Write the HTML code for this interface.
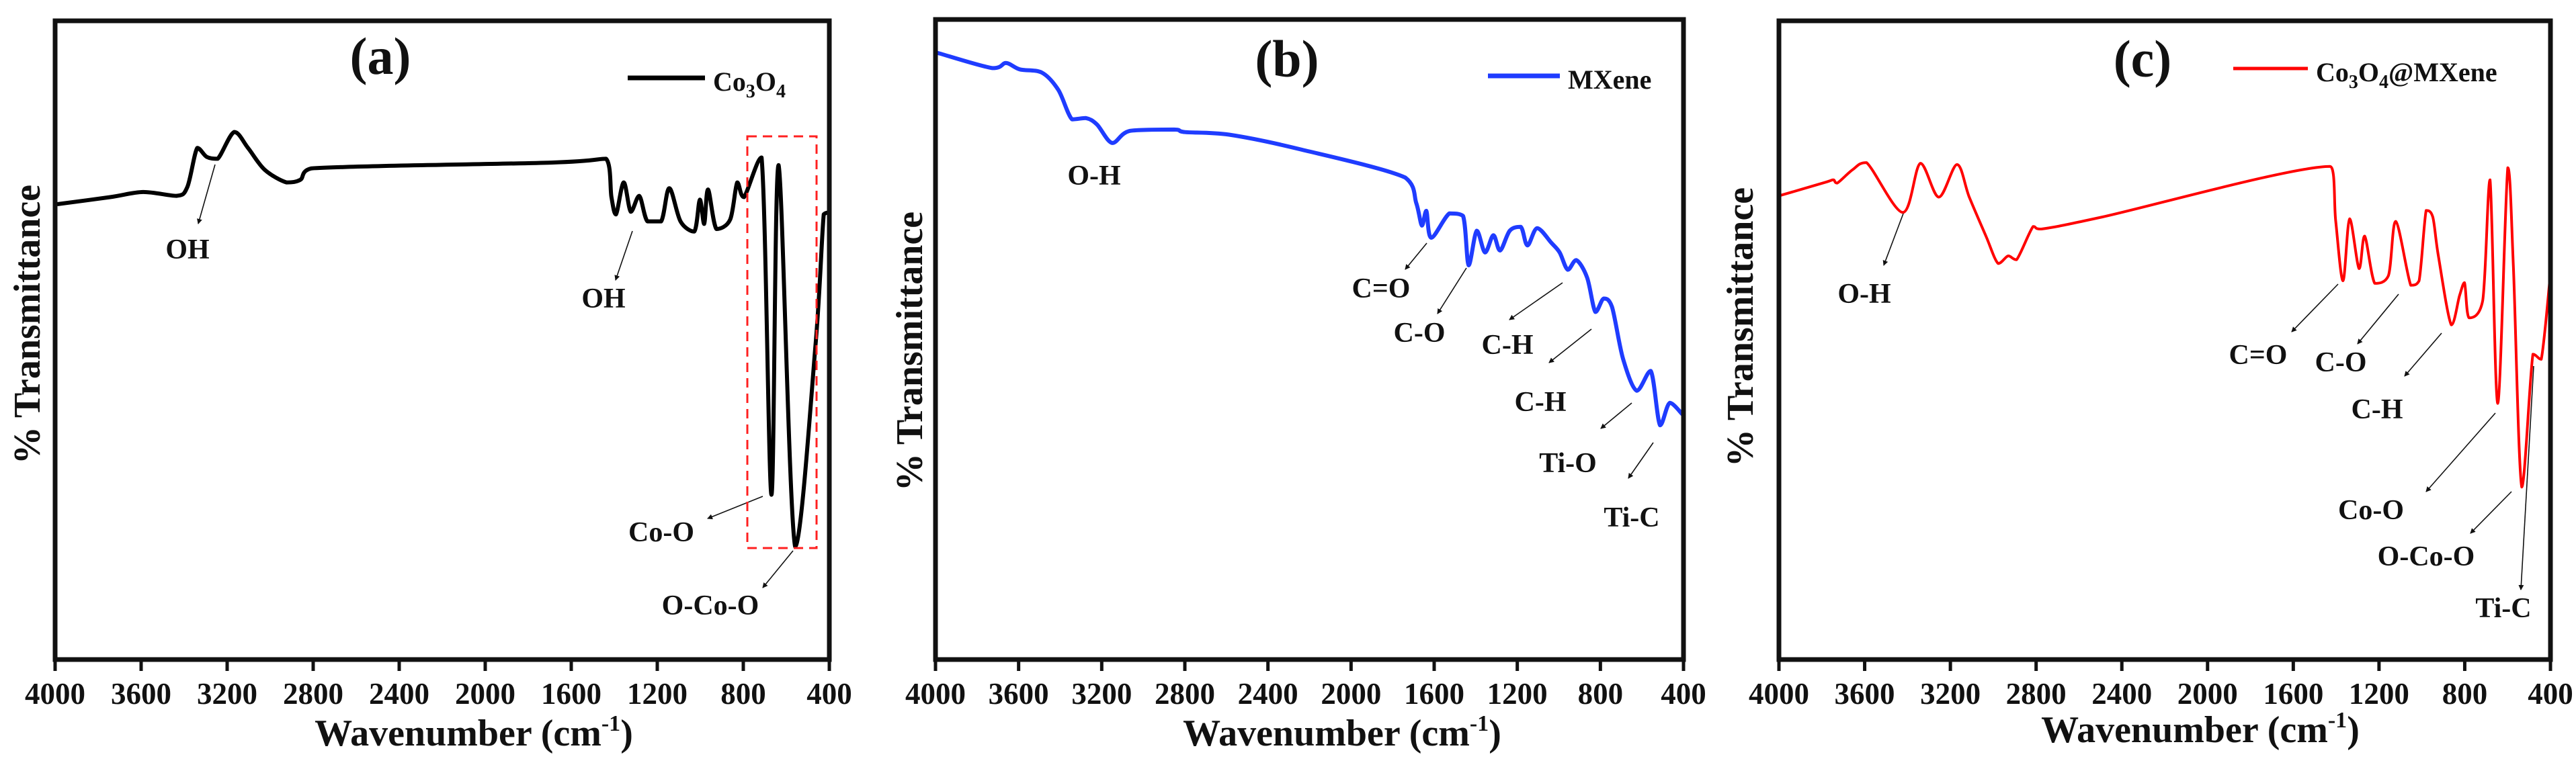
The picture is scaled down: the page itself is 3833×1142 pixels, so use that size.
<!DOCTYPE html>
<html><head><meta charset="utf-8">
<style>
html,body{margin:0;padding:0;background:#fff;}
svg{display:block;}
text{font-family:"Liberation Serif",serif;font-weight:bold;fill:#111;}
</style></head>
<body>
<svg id="chart" width="3833" height="1142" viewBox="0 0 3833 1142" xmlns="http://www.w3.org/2000/svg">
<defs>
<marker id="ah" markerWidth="8" markerHeight="8" refX="7" refY="4" orient="auto" markerUnits="userSpaceOnUse" viewBox="0 0 8 8">
<path d="M0,0 L8,4 L0,8 z" fill="#111"/></marker>
</defs>
</svg>
<script>
// ---- data ----
const xTicks = [4000,3600,3200,2800,2400,2000,1600,1200,800,400];
const wnA = [3987,3744,3590,3436,3385,3339,3295,3244,3167,3103,3026,2924,2860,2808,1694,1438,1413,1392,1356,1323,1284,1246,1182,1144,1092,1028,1002,982,964,925,861,828,797,715,669,636,559,464,426,405];
const tA  = [71.3,72.4,73.2,72.6,74,80.1,78.7,78.4,82.6,80.1,76.7,74.7,75.1,76.9,77.8,78.4,72.4,69.7,74.7,70.1,72.6,68.6,68.6,73.8,68.6,67,72,68.2,73.6,67.4,68.9,74.7,72.4,78.6,25.8,77.4,17.7,49.3,69.7,70];
const wnB = [3992,3727,3661,3594,3488,3409,3343,3276,3223,3149,3064,2852,2799,2587,2242,1739,1686,1659,1638,1614,1527,1461,1434,1395,1355,1315,1283,1236,1183,1151,1104,1036,996,957,916,864,824,784,744,691,625,558,513,466,405];
const tB  = [94.8,92.4,93.2,92.2,91.7,89,84.4,84.6,83.6,80.7,82.6,82.8,82.4,82,79.7,75.3,71.3,67.8,70.1,65.9,69.7,69.3,61.6,67,63.6,66.3,63.9,67,67.6,64.7,67.4,65.1,63.6,60.9,62.4,59.7,54.3,56.4,55.1,47,42,45.1,36.6,40.1,38.3];
const wnC = [4000,3785,3746,3728,3656,3591,3422,3340,3254,3169,3112,3034,2977,2930,2891,2814,2775,2490,1428,1402,1368,1337,1293,1267,1220,1156,1122,1052,1013,980,949,923,863,824,801,780,716,682,646,599,573,534,482,443,400];
const tC  = [72.6,74.7,75.1,74.6,76.7,77.8,70,77.7,72.4,77.5,72.4,66.3,62,63.2,62.6,67.8,67.4,69.3,77.2,68.6,59.3,69,61.2,66.3,58.9,60.1,68.6,58.6,59.3,70.3,69.3,63.2,52.4,57,59,53.5,56.2,75.1,40.1,77,61.6,27,47.8,47,60.5];

const NS="http://www.w3.org/2000/svg";
const svg=document.getElementById('chart');
function mk(tag,attrs,parent,txt){const e=document.createElementNS(NS,tag);for(const k in attrs)e.setAttribute(k,attrs[k]);if(txt!==undefined)e.textContent=txt;(parent||svg).appendChild(e);return e;}
const clamp=(v,a,b)=>Math.max(Math.min(a,b),Math.min(Math.max(a,b),v));
function smooth(pts){
  let d='M'+pts[0][0].toFixed(1)+','+pts[0][1].toFixed(1);
  const k=0.16;
  for(let i=0;i<pts.length-1;i++){
    const p0=pts[Math.max(0,i-1)],p1=pts[i],p2=pts[i+1],p3=pts[Math.min(pts.length-1,i+2)];
    let c1=[p1[0]+(p2[0]-p0[0])*k,p1[1]+(p2[1]-p0[1])*k];
    let c2=[p2[0]-(p3[0]-p1[0])*k,p2[1]-(p3[1]-p1[1])*k];
    c1=[clamp(c1[0],p1[0],p2[0]),clamp(c1[1],p1[1],p2[1])];
    c2=[clamp(c2[0],p1[0],p2[0]),clamp(c2[1],p1[1],p2[1])];
    d+=` C${c1[0].toFixed(1)},${c1[1].toFixed(1)} ${c2[0].toFixed(1)},${c2[1].toFixed(1)} ${p2[0].toFixed(1)},${p2[1].toFixed(1)}`;
  }
  return d;
}

const panels=[
 {id:'a',L:82,R:1234,T:31,B:982,wn:wnA,t:tA,color:'#000',lw:6,legend:'Co3O4',
  lx:[934,1049,116],ltx:1061,lty:135,title:[566,110],ytx:41,yty:483,xtx:705,xty:1110,
  ann:[['OH',279,385,[320,245,295,333]],['OH',898,458,[941,344,916,417]],['Co-O',984,806,[1135,739,1053,772]],['O-Co-O',1057,915,[1180,820,1135,875]]]},
 {id:'b',L:1392,R:2505,T:29,B:982,wn:wnB,t:tB,color:'#1f3cff',lw:6,legend:'MXene',
  lx:[2214,2321,113],ltx:2333,lty:132,title:[1915,114],ytx:1354,yty:523,xtx:1997,xty:1110,
  ann:[['O-H',1628,275,null],['C=O',2055,443,[2123,362,2091,401]],['C-O',2112,509,[2182,399,2139,467]],['C-H',2243,527,[2325,421,2246,476]],['C-H',2292,612,[2368,490,2305,540]],['Ti-O',2333,703,[2428,600,2382,638]],['Ti-C',2428,784,[2460,659,2423,712]]]},
 {id:'c',L:2647,R:3795,T:31,B:982,wn:wnC,t:tC,color:'#ff0000',lw:4,legend:'Co3O4@MXene',
  lx:[3323,3434,102],ltx:3446,lty:121,title:[3188,114],ytx:2590,yty:487,xtx:3274,xty:1105,
  ann:[['O-H',2774,451,[2832,318,2803,395]],['C=O',3360,542,[3479,423,3410,494]],['C-O',3483,553,[3569,438,3508,512]],['C-H',3537,623,[3633,496,3578,560]],['Co-O',3528,773,[3713,615,3610,732]],['O-Co-O',3610,842,[3737,732,3676,794]],['Ti-C',3725,919,[3770,545,3751,878]]]}
];

panels.forEach(p=>{
  const g=mk('g',{});
  
  
  const xs=w=>p.L+(4000-w)/3600*(p.R-p.L);
  const ys=v=>p.B-v/100*(p.B-p.T);
  const pts=p.wn.map((w,i)=>[xs(w),ys(p.t[i])]);
  const path=mk('path',{d:smooth(pts),fill:'none',stroke:p.color,'stroke-width':p.lw,'stroke-linejoin':'round','stroke-linecap':'round'},g);
  
  
  const fr=mk('rect',{x:p.L,y:p.T,width:p.R-p.L,height:p.B-p.T,fill:'none',stroke:'#111','stroke-width':7},g);
  
  
  xTicks.forEach(tk=>{
    const x=xs(tk);
    mk('line',{x1:x,y1:p.B,x2:x,y2:p.B+17,stroke:'#111','stroke-width':5},g);
    const tl=mk('text',{x:x,y:p.B+66,'font-size':45,'text-anchor':'middle'},g,String(tk));
    
    
  });
  const xt=mk('text',{x:p.xtx,y:p.xty,'font-size':56,'text-anchor':'middle'},g);
  
  
  xt.appendChild(document.createTextNode('Wavenumber (cm'));
  mk('tspan',{dy:-22,'font-size':34},xt,'-1');
  mk('tspan',{dy:22},xt,')');
  const yt=mk('text',{x:p.ytx,y:p.yty,'font-size':56,'text-anchor':'middle',transform:`rotate(-90 ${p.ytx} ${p.yty})`,dy:18},g,'% Transmittance');
  
  
  const pt=mk('text',{x:p.title[0],y:p.title[1],'font-size':78,'text-anchor':'middle'},g,'('+p.id+')');
  
  
  const ll=mk('line',{x1:p.lx[0],y1:p.lx[2],x2:p.lx[1],y2:p.lx[2],stroke:p.color,'stroke-width':p.lw+1},g);
  
  
  const lt=mk('text',{x:p.ltx,y:p.lty,'font-size':40},g);
  
  
  if(p.legend.startsWith('Co3O4')){
    lt.appendChild(document.createTextNode('Co'));
    mk('tspan',{dy:10,'font-size':28},lt,'3');
    mk('tspan',{dy:-10},lt,'O');
    mk('tspan',{dy:10,'font-size':28},lt,'4');
    mk('tspan',{dy:-10},lt,p.legend.slice(5));
  } else lt.textContent=p.legend;
  p.ann.forEach(a=>{
    const t=mk('text',{x:a[1],y:a[2],'font-size':42,'text-anchor':'middle'},g,a[0]);
    
    
    if(a[3]){
      const ar=mk('line',{x1:a[3][0],y1:a[3][1],x2:a[3][2],y2:a[3][3],stroke:'#111','stroke-width':1.6,'marker-end':'url(#ah)'},g);
      
      
    }
  });
  if(p.id==='a'){
    const box=mk('rect',{x:1112,y:203,width:103,height:613,fill:'none',stroke:'#ff2020','stroke-width':3,'stroke-dasharray':'14 9'},g);
    
    
  }
});
</script>
</body></html>
